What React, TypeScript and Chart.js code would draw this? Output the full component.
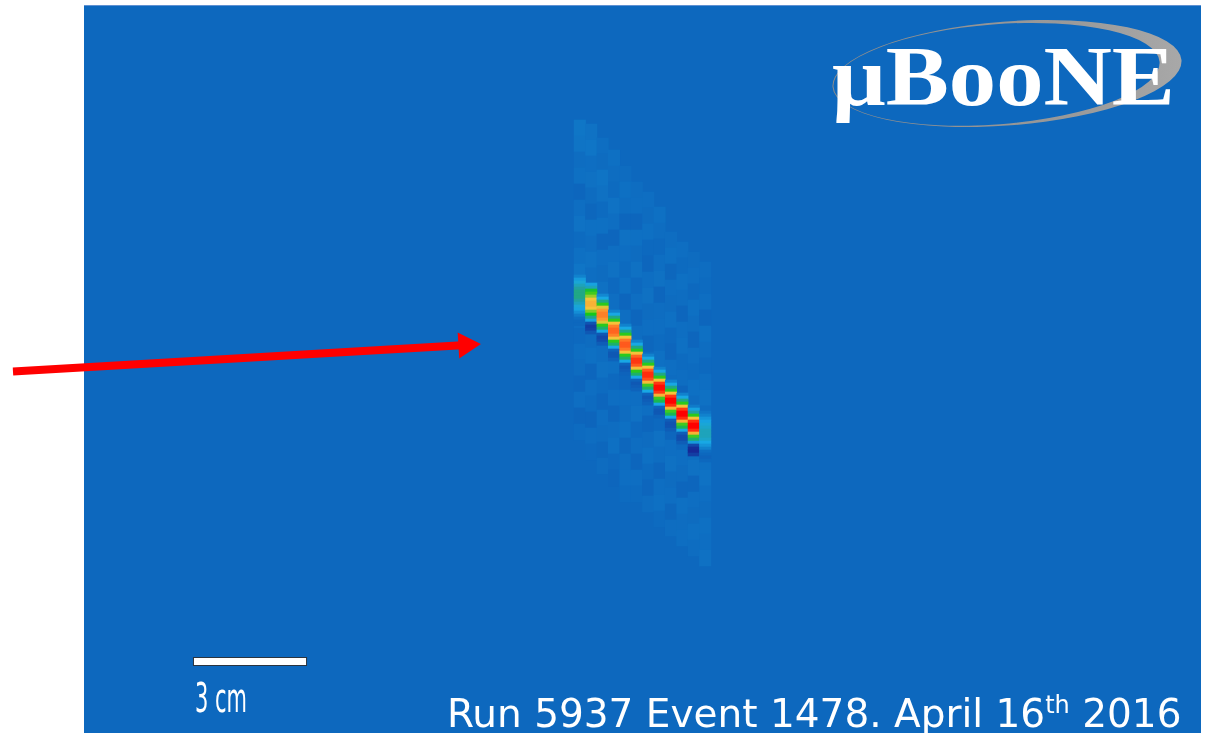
import React, { useEffect, useRef } from "react";
import { Chart, registerables } from "chart.js";

Chart.register(...registerables);

// ---- axes (wire number horizontally, drift-time tick vertically) ----
const WIRE_RANGE = [-0.5, 97.5];
const TICK_RANGE = [0, 727];

// ---- track: collection-plane wires and their charge profiles ----
const trackWires = [43, 44, 45, 46, 47, 48, 49, 50, 51, 52, 53, 54];
const trackFirstTick = [270.5, 278.5, 289.5, 305.5, 319.5, 335.5, 349.5, 362.5, 375.5, 388.5, 400.5, 406.5];
const TRACK_BIN = 3;
const trackCharge: number[][] = [
  [0.4, 0.8, 1.1, 1.3, 1.5, 1.6, 1.6, 1.6, 1.5, 1.3, 1.1, 0.9, 0.6, 0.3, 0.1, 0.0, 0.0],
  [0.9, 1.3, 1.9, 2.2, 2.6, 3.0, 3.2, 3.2, 3.0, 2.5, 2.0, 1.6, 0.9, -0.4, -0.8, -0.7, -0.3],
  [0.5, 1.0, 1.6, 2.1, 2.9, 3.5, 3.8, 3.8, 3.5, 2.9, 2.1, 1.7, 1.0, -0.3, -0.6, -0.5, -0.2],
  [0.4, 1.0, 1.6, 2.1, 3.0, 3.8, 4.1, 4.1, 3.8, 3.0, 2.1, 1.7, 1.0, -0.1, -0.3, -0.3, -0.1],
  [0.4, 1.0, 1.6, 2.1, 3.0, 3.9, 4.2, 4.2, 3.9, 3.0, 2.1, 1.7, 1.0, -0.1, -0.3, -0.2, -0.1],
  [0.4, 1.0, 1.6, 2.1, 3.0, 4.1, 4.5, 4.5, 4.2, 3.1, 2.1, 1.7, 1.0, -0.1, -0.3, -0.2, -0.1],
  [0.4, 1.0, 1.6, 2.1, 3.0, 4.2, 4.6, 4.6, 4.3, 3.1, 2.2, 1.7, 1.0, -0.1, -0.3, -0.2, -0.1],
  [0.4, 1.0, 1.6, 2.1, 3.0, 4.5, 4.9, 4.9, 4.5, 3.2, 2.2, 1.8, 1.0, -0.1, -0.3, -0.3, -0.1],
  [0.4, 1.0, 1.6, 2.1, 3.0, 4.5, 5.0, 5.0, 4.6, 3.2, 2.2, 1.8, 1.0, -0.2, -0.4, -0.4, -0.2],
  [0.4, 1.0, 1.6, 2.1, 3.0, 4.5, 5.0, 5.0, 4.6, 3.2, 2.2, 1.8, 1.0, -0.2, -0.5, -0.5, -0.2],
  [0.3, 0.9, 1.5, 2.1, 3.0, 4.6, 5.0, 5.0, 4.6, 3.2, 2.2, 1.7, 0.8, -0.6, -1.1, -1.2, -0.8],
  [0.2, 0.4, 0.7, 0.9, 1.1, 1.2, 1.3, 1.3, 1.3, 1.2, 1.0, 0.7, 0.4, 0.1, 0.0, -0.1, 0.0],
];

// ---- faint induced / noise signal on the same wires ----
const noiseWires = [43, 44, 45, 46, 47, 48, 49, 50, 51, 52, 53, 54];
const noiseFirstTick = [122, 126, 140, 152, 168, 184, 194, 209, 234, 244, 254, 264];
const NOISE_BIN = 16;
const noiseCharge: number[][] = [
  [0.22, 0.18, 0.08, 0.12, -0.04, 0.1, 0.16, 0.04, 0.12, 0.2, -0.02, 0.1, 0.14, 0.02, 0.1, 0.06, -0.04, 0.1, -0.06, 0.04],
  [0.16, 0.2, 0.1, 0.14, 0.06, -0.02, 0.12, 0.08, 0.16, 0.1, 0.04, 0.14, -0.05, 0.06, 0.12, -0.03, 0.1, 0.04, -0.05, 0.08, 0.02],
  [0.1, 0.06, 0.18, 0.14, 0.04, 0.12, -0.04, 0.1, 0.06, 0.14, 0.02, 0.1, -0.03, 0.08, 0.14, 0.04, -0.04, 0.1, 0.06, -0.02, 0.06],
  [0.12, 0.08, 0.04, 0.16, 0.1, -0.03, 0.1, 0.14, 0.02, 0.1, 0.08, -0.05, 0.06, 0.12, 0.02, 0.1, -0.03, 0.08, 0.12, 0.02, -0.03],
  [0.06, 0.12, 0.08, -0.04, 0.14, 0.1, 0.04, 0.12, -0.03, 0.1, 0.06, 0.14, 0.02, -0.04, 0.1, 0.06, 0.12, -0.02, 0.08, 0.1, 0.04],
  [0.08, 0.1, -0.03, 0.12, 0.06, 0.14, 0.02, 0.1, -0.04, 0.08, 0.12, 0.04, -0.03, 0.1, 0.14, 0.02, 0.08, -0.03, 0.1, 0.04],
  [0.1, 0.06, 0.12, 0.02, -0.04, 0.1, 0.14, 0.06, 0.1, -0.02, 0.08, 0.12, 0.02, 0.1, -0.04, 0.06, 0.12, 0.04, -0.03, 0.08],
  [0.12, 0.08, 0.02, 0.1, 0.14, -0.03, 0.08, 0.1, 0.04, 0.12, -0.04, 0.06, 0.1, 0.02, 0.14, 0.08, -0.03, 0.1, 0.12, 0.04],
  [0.08, 0.12, -0.02, 0.1, 0.06, 0.12, 0.02, -0.04, 0.1, 0.06, 0.12, 0.04, -0.03, 0.1, 0.14, 0.06, 0.1, -0.02, 0.08],
  [0.1, 0.04, 0.12, 0.08, -0.03, 0.1, 0.12, 0.04, 0.08, -0.05, 0.06, 0.12, 0.02, 0.1, 0.06, -0.03, 0.12, 0.08, 0.1],
  [0.06, 0.1, 0.02, 0.12, 0.08, -0.04, 0.1, 0.04, 0.12, 0.06, -0.02, 0.1, 0.08, 0.14, -0.03, 0.1, 0.06, 0.12, 0.08],
  [0.08, 0.04, 0.1, -0.03, 0.12, 0.08, 0.02, 0.1, 0.14, 0.06, -0.04, 0.1, 0.12, 0.16, 0.1, 0.06, 0.12, 0.1, 0.14],
];

// ---- annotations (in wire / tick units) ----
const arrowWire = [-6.73, 33.01];
const arrowTick = [365.5, 339];
const scaleBarWire = [9.15, 18.98];
const scaleBarOutlineWire = [9.06, 19.07];
const scaleBarTick = 655.5;
const scaleBarLabel = "3 cm";
const logoText = "μBooNE";
const eventTextMain = "Run 5937 Event 1478. April 16";
const eventTextSup = "th";
const eventTextEnd = " 2016";

// ---- colour map (jet-like, background blue at zero) ----
const BG = "rgb(13,104,190)";
const CMAP: [number, number[]][] = [
  [-1.2, [22, 40, 150]],
  [0, [13, 104, 190]],
  [1.0, [24, 168, 228]],
  [1.5, [34, 160, 160]],
  [2.0, [22, 200, 26]],
  [2.6, [150, 205, 45]],
  [3.0, [245, 195, 58]],
  [4.0, [255, 112, 36]],
  [5.0, [255, 0, 0]],
];
function chargeColor(v: number): string {
  if (v <= CMAP[0][0]) return `rgb(${CMAP[0][1].join(",")})`;
  for (let i = 1; i < CMAP.length; i++) {
    if (v <= CMAP[i][0]) {
      const [v0, c0] = CMAP[i - 1];
      const [v1, c1] = CMAP[i];
      const f = (v - v0) / (v1 - v0);
      const c = c0.map((a, k) => Math.round(a + (c1[k] - a) * f));
      return `rgb(${c.join(",")})`;
    }
  }
  return `rgb(${CMAP[CMAP.length - 1][1].join(",")})`;
}

function buildCells(wires: number[], first: number[], bin: number, charge: number[][]) {
  const cells: { x: number; y: [number, number] }[] = [];
  const colors: string[] = [];
  wires.forEach((w, i) => {
    charge[i].forEach((q, k) => {
      const t = first[i] + k * bin;
      cells.push({ x: w, y: [t - bin / 2, t + bin / 2] });
      colors.push(chargeColor(q));
    });
  });
  return { cells, colors };
}

const backgroundPlugin = {
  id: "displayBackground",
  beforeDraw(chart: any) {
    const { ctx, chartArea: a } = chart;
    ctx.save();
    ctx.fillStyle = BG;
    ctx.fillRect(a.left, a.top, a.right - a.left, a.bottom - a.top);
    ctx.fillStyle = "rgb(95,145,210)";
    ctx.fillRect(a.left, a.top - 1, a.right - a.left, 1);
    ctx.restore();
  },
};

export default function App() {
  const ref = useRef<HTMLCanvasElement | null>(null);

  useEffect(() => {
    if (!ref.current) return;
    const track = buildCells(trackWires, trackFirstTick, TRACK_BIN, trackCharge);
    const noise = buildCells(noiseWires, noiseFirstTick, NOISE_BIN, noiseCharge);

    const chart = new Chart(ref.current, {
      type: "bar",
      data: {
        datasets: [
          {
            type: "line",
            label: "beam arrow",
            data: arrowWire.map((w, i) => ({ x: w, y: arrowTick[i] })),
            borderColor: "#ff0000",
            borderWidth: 8,
            borderCapStyle: "butt",
            pointRadius: 0,
            clip: false,
            order: 0,
          } as any,
          {
            type: "line",
            label: "beam arrow head",
            data: [{ x: arrowWire[1], y: arrowTick[1] }],
            showLine: false,
            pointStyle: "triangle",
            pointRadius: 15,
            pointRotation: 86.6,
            pointBackgroundColor: "#ff0000",
            pointBorderWidth: 0,
            pointBorderColor: "#ff0000",
            clip: false,
            order: 0,
          } as any,
          {
            type: "line",
            label: "scale bar outline",
            data: scaleBarOutlineWire.map((w) => ({ x: w, y: scaleBarTick })),
            borderColor: "#2a3440",
            borderWidth: 9,
            borderCapStyle: "butt",
            pointRadius: 0,
            clip: false,
            order: 1,
          } as any,
          {
            type: "line",
            label: "scale bar",
            data: scaleBarWire.map((w) => ({ x: w, y: scaleBarTick })),
            borderColor: "#ffffff",
            borderWidth: 7,
            borderCapStyle: "butt",
            pointRadius: 0,
            clip: false,
            order: 0,
          } as any,
          {
            label: "track",
            data: track.cells as any,
            backgroundColor: track.colors,
            borderWidth: 0,
            grouped: false,
            barPercentage: 1,
            categoryPercentage: 1,
            order: 2,
          } as any,
          {
            label: "noise",
            data: noise.cells as any,
            backgroundColor: noise.colors,
            borderWidth: 0,
            grouped: false,
            barPercentage: 1,
            categoryPercentage: 1,
            order: 3,
          } as any,
        ],
      },
      options: {
        responsive: false,
        maintainAspectRatio: false,
        animation: false,
        devicePixelRatio: 1,
        events: [],
        layout: { autoPadding: false, padding: { left: 84, top: 6, right: 8, bottom: 0 } },
        plugins: { legend: { display: false }, tooltip: { enabled: false }, title: { display: false } },
        scales: {
          x: {
            type: "linear",
            display: false,
            offset: false,
            min: WIRE_RANGE[0],
            max: WIRE_RANGE[1],
            ticks: { stepSize: 10, includeBounds: false },
          },
          y: {
            type: "linear",
            display: false,
            reverse: true,
            min: TICK_RANGE[0],
            max: TICK_RANGE[1],
            ticks: { includeBounds: false },
          },
        },
      } as any,
      plugins: [backgroundPlugin],
    });
    return () => chart.destroy();
  }, []);

  return (
    <div style={{ position: "absolute", left: 0, top: 0, width: 1209, height: 733, overflow: "hidden", background: "#ffffff" }}>
      <canvas ref={ref} width={1209} height={733} style={{ position: "absolute", left: 0, top: 0, width: 1209, height: 733 }} />
      <svg width={1209} height={733} style={{ position: "absolute", left: 0, top: 0, pointerEvents: "none" }}>
        <defs>
          <linearGradient id="swoosh" x1="0" y1="0" x2="1" y2="0">
            <stop offset="0" stopColor="#8c8c8c" />
            <stop offset="0.7" stopColor="#9a9a9a" />
            <stop offset="1" stopColor="#a8a8a8" />
          </linearGradient>
        </defs>
        <g transform="translate(1007 73.5) rotate(-4.4)">
          <path
            fillRule="evenodd"
            fill="url(#swoosh)"
            d="M -175 0 A 175 52 0 1 0 175 0 A 175 52 0 1 0 -175 0 Z M -174 0 A 163.5 50 0 1 0 153 0 A 163.5 50 0 1 0 -174 0 Z"
          />
        </g>
        <text
          x={832}
          y={105}
          fill="#ffffff"
          fontFamily="'Liberation Serif', 'DejaVu Serif', serif"
          fontWeight="bold"
          fontSize={84}
          textLength={343}
          lengthAdjust="spacingAndGlyphs"
        >
          {logoText}
        </text>
        <text
          x={195}
          y={712}
          fill="#ffffff"
          fontFamily="'DejaVu Sans', sans-serif"
          fontSize={41}
          textLength={52}
          lengthAdjust="spacingAndGlyphs"
        >
          {scaleBarLabel}
        </text>
        <text x={447} y={727} fill="#ffffff" fontFamily="'DejaVu Sans', sans-serif" fontSize={39}>
          {eventTextMain}
          <tspan dy={-14} fontSize={24}>{eventTextSup}</tspan>
          <tspan dy={14}>{eventTextEnd}</tspan>
        </text>
      </svg>
    </div>
  );
}
